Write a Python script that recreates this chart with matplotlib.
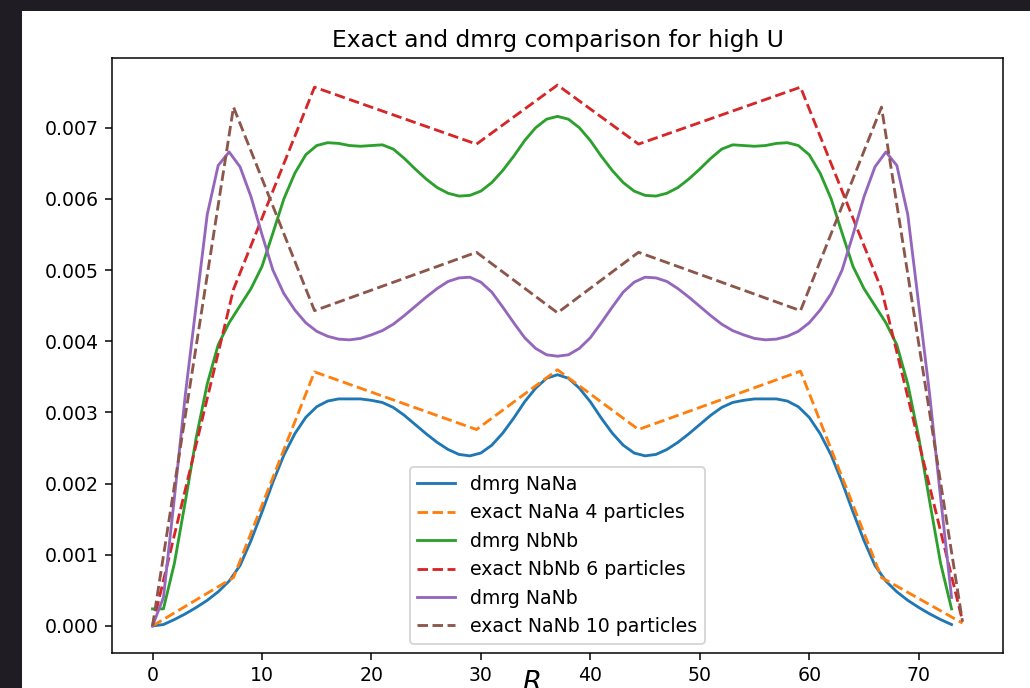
import numpy as np
import matplotlib
matplotlib.use("Agg")
import matplotlib.pyplot as plt
from matplotlib.patches import Rectangle

# dmrg grid and exact grid
R_dmrg = np.arange(74)
R_exact = [0, 7.4, 14.8, 29.6, 37, 44.4, 59.2, 66.6, 74]

# values in units of 1e-3
dmrg_NaNa = [0.00, 0.02, 0.09, 0.17, 0.26, 0.36, 0.48, 0.63, 0.85, 1.20,
             1.60, 2.02, 2.40, 2.70, 2.93, 3.08, 3.16, 3.19, 3.19, 3.19,
             3.17, 3.14, 3.07, 2.96, 2.83, 2.70, 2.58, 2.48, 2.41, 2.39,
             2.43, 2.54, 2.71, 2.92, 3.15, 3.34, 3.48, 3.53, 3.48, 3.34,
             3.15, 2.92, 2.71, 2.54, 2.43, 2.39, 2.41, 2.48, 2.58, 2.70,
             2.83, 2.96, 3.07, 3.14, 3.17, 3.19, 3.19, 3.19, 3.16, 3.08,
             2.93, 2.70, 2.40, 2.02, 1.60, 1.20, 0.85, 0.63, 0.48, 0.36,
             0.26, 0.17, 0.09, 0.02]
exact_NaNa = [0.00, 0.68, 3.57, 2.76, 3.60, 2.76, 3.58, 0.68, 0.04]

dmrg_NbNb = [0.24, 0.24, 0.88, 1.75, 2.65, 3.40, 3.95, 4.26, 4.50, 4.74,
             5.05, 5.52, 6.00, 6.36, 6.62, 6.75, 6.79, 6.78, 6.75, 6.74,
             6.75, 6.76, 6.70, 6.57, 6.42, 6.28, 6.16, 6.08, 6.04, 6.05,
             6.11, 6.23, 6.40, 6.60, 6.82, 7.00, 7.12, 7.16, 7.12, 7.00,
             6.82, 6.60, 6.40, 6.23, 6.11, 6.05, 6.04, 6.08, 6.16, 6.28,
             6.42, 6.57, 6.70, 6.76, 6.75, 6.74, 6.75, 6.78, 6.79, 6.75,
             6.62, 6.36, 6.00, 5.52, 5.05, 4.74, 4.50, 4.26, 3.95, 3.40,
             2.65, 1.75, 0.88, 0.24]
exact_NbNb = [0.00, 4.73, 7.57, 6.77, 7.60, 6.77, 7.57, 4.73, 0.07]

dmrg_NaNb = [0.00, 0.40, 1.80, 3.25, 4.52, 5.78, 6.47, 6.66, 6.45, 6.03,
             5.50, 5.00, 4.67, 4.44, 4.26, 4.14, 4.07, 4.03, 4.02, 4.04,
             4.09, 4.15, 4.24, 4.36, 4.49, 4.62, 4.74, 4.84, 4.89, 4.90,
             4.83, 4.69, 4.48, 4.26, 4.05, 3.90, 3.81, 3.79, 3.81, 3.90,
             4.05, 4.26, 4.48, 4.69, 4.83, 4.90, 4.89, 4.84, 4.74, 4.62,
             4.49, 4.36, 4.24, 4.15, 4.09, 4.04, 4.02, 4.03, 4.07, 4.14,
             4.26, 4.44, 4.67, 5.00, 5.50, 6.03, 6.45, 6.66, 6.47, 5.78,
             4.52, 3.25, 1.80, 0.40]
exact_NaNb = [0.00, 7.29, 4.43, 5.25, 4.40, 5.25, 4.43, 7.29, 0.06]

series = [
    (dmrg_NaNa, exact_NaNa, "NaNa", 4),
    (dmrg_NbNb, exact_NbNb, "NbNb", 6),
    (dmrg_NaNb, exact_NaNb, "NaNb", 10),
]

dpi = 136
fig = plt.figure(figsize=(1030 / dpi, 688 / dpi), dpi=dpi, facecolor="#1f1c24")
# white figure area of the notebook output
fig.add_artist(Rectangle((22 / 1030, 0), 1, 1 - 11 / 688, transform=fig.transFigure,
                         facecolor="white", edgecolor="none", zorder=-5))
ax = fig.add_axes([112 / 1030, 1 - 653 / 688, 891 / 1030, 595 / 688])

for dmrg, exact, name, n in series:
    ax.plot(R_dmrg, np.array(dmrg) * 1e-3, label="dmrg " + name)
    ax.plot(R_exact, np.array(exact) * 1e-3, "--", label=f"exact {name} {n} particles")

ax.set_title("Exact and dmrg comparison for high U", fontsize=12.4)
ax.set_xlabel("$R$", fontsize=14.5)
ax.xaxis.set_label_coords(0.47, -0.028)
ax.legend(loc="lower center")

fig.savefig("out.png", dpi=dpi, facecolor=fig.get_facecolor())
